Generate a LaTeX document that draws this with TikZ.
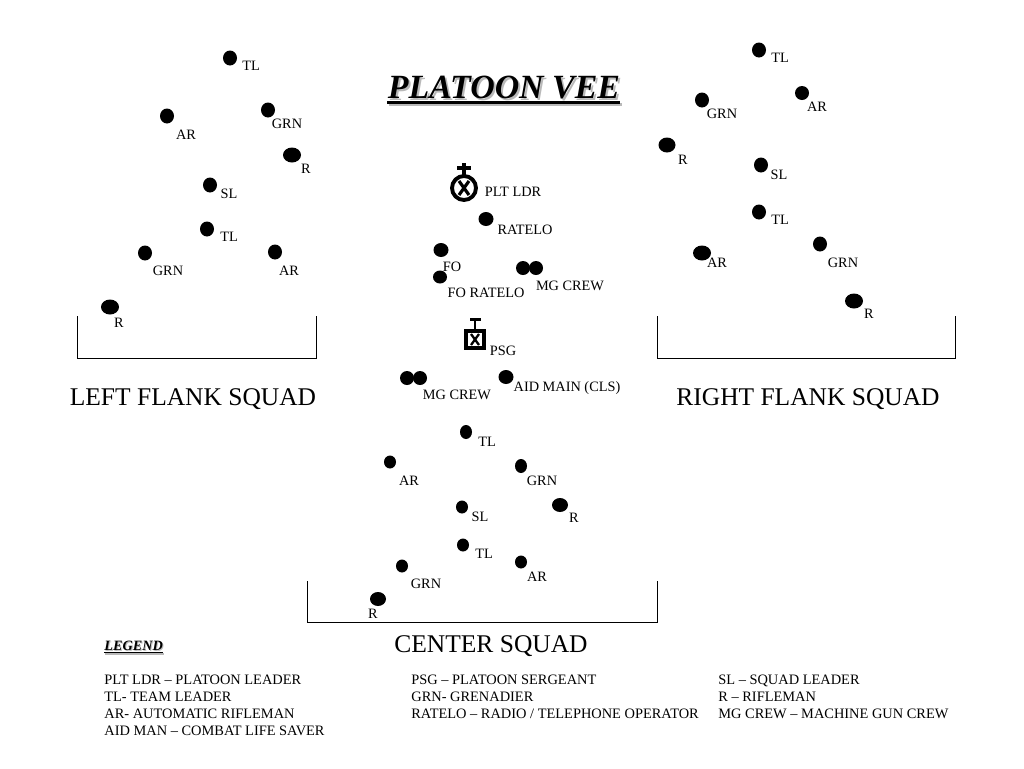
\documentclass[tikz,border=0pt]{standalone}
\usepackage{fontspec}
\setmainfont{Liberation Serif}
\usetikzlibrary{positioning}
\tikzset{
  lab/.style={inner sep=0pt,yshift=-0.4pt,font=\fontsize{8.15}{9}\selectfont},
  squadname/.style={inner sep=0pt,font=\fontsize{14.5}{16}\selectfont},
  legline/.style={anchor=base west,inner sep=0pt,font=\fontsize{8.2}{9}\selectfont},
  bracket/.style={line width=0.5pt},
  symb/.style={line width=2.2pt},
}
\begin{document}
\begin{tikzpicture}[x=0.02cm,y=-0.02cm]
\useasboundingbox (0,0) rectangle (1024,768);
% title and its shadow
\fill[gray!55] (389,103) rectangle (622,106);
\node[inner sep=0pt,text=gray!55,font=\fontsize{19.3}{22}\bfseries\itshape\selectfont] (titleshadow) at (506,90) {PLATOON VEE};
\node[inner sep=0pt,font=\fontsize{19.3}{22}\bfseries\itshape\selectfont] (title) at (504,88) {PLATOON VEE};
\fill (387,101) rectangle (620,103.5);
% soldiers: dot x/y, radii, label x/y, label
\foreach \xx/\yy/\rx/\ry/\lx/\ly/\txt [count=\i] in {
  230/58/7/7.5/251/65/TL, 167/116/7/7.5/186/134/AR, 268/110/7/7.5/287/123/GRN,
  292/155/9/7.5/306/168/R, 210/185/7/7.5/229/193/SL, 207/229/7/7.5/229/236/TL,
  145/253/7/7.5/168/270/GRN, 275/252/7/7.5/289/270/AR, 110/307/9/7.5/119/322/R,
  759/50/7/7.5/780/57/TL, 702/100/7/7.5/722/113/GRN, 802/93/7/7/817/106/AR,
  667/145/8.5/7.5/683/159/R, 761/165/7/7.5/779/174/SL, 759/212/7/7.5/780/219/TL,
  702/253/9/7.5/717/262/AR, 820/244/7/7.5/843/262/GRN, 854/301/9/7.5/869/313/R,
  486/219/7.5/7/525/229/RATELO, 441/250/7.5/7/452/266/FO, 440/277/7/6.5/486/292/FO RATELO,
  506/377/7.5/7/567/387/AID MAIN (CLS),
  466/432/6/7/487/441/TL, 390/462/6/6.5/409/480/AR, 521/466/6/7/542/480/GRN,
  462/507/6/6.5/480/516/SL, 560/505/8/7/574/517/R, 463/545/6/6.5/484/553/TL,
  521/562/6/6.5/537/576/AR, 402/566/6/6.5/426/583/GRN, 378/599/8/7/373/613/R}
  {\fill (\xx,\yy) ellipse ({\rx} and {\ry});
   \node[lab] (lab\i) at (\lx,\ly) {\txt};}
% machine gun crews, two dots each
\foreach \xx/\yy in {523/268,536/268,407/378,420/378}
  {\fill (\xx,\yy) ellipse (7 and 7);}
\node[lab] (mgone) at (570,285) {MG CREW};
\node[lab] (mgtwo) at (457,394) {MG CREW};
% platoon leader symbol
\draw[symb] (464,188) circle (12);
\draw[line width=1.8pt] (459,181) -- (469,195) (469,181) -- (459,195);
\draw[line width=2pt] (464,163) -- (464,176) (457,168) -- (471,168);
\node[lab] (pltldr) at (513,191) {PLT LDR};
% platoon sergeant symbol
\draw[line width=2pt] (466,331) rectangle (484,348);
\draw[line width=1.3pt] (471,334) -- (479,345) (479,334) -- (471,345);
\draw[line width=1.6pt] (475,319) -- (475,331) (470,319.5) -- (481,319.5);
\node[lab] (psg) at (503,350) {PSG};
% squad brackets
\draw[bracket] (77,316) |- (316,358) -- (316,316);
\draw[bracket] (657,316) |- (955,358) -- (955,316);
\draw[bracket] (307,581) |- (657,622) -- (657,581);
\node[squadname] (leftsq) at (193,399) {LEFT FLANK SQUAD};
\node[squadname] (rightsq) at (808,399) {RIGHT FLANK SQUAD};
\node[squadname] (centersq) at (491,646) {CENTER SQUAD};
% legend
\fill[gray!55] (105,653) rectangle (164,655);
\node[inner sep=0pt,anchor=west,text=gray!55,font=\fontsize{8.1}{9}\bfseries\itshape\selectfont] (legshadow) at (105,647) {LEGEND};
\node[inner sep=0pt,anchor=west,font=\fontsize{8.1}{9}\bfseries\itshape\selectfont] (legend) at (104,646) {LEGEND};
\fill (104,652) rectangle (163,653);
\foreach \xx/\yy/\txt [count=\i] in {
  104/684/PLT LDR -- PLATOON LEADER, 104/701/TL- TEAM LEADER,
  104/718/AR- AUTOMATIC RIFLEMAN, 104/735/AID MAN -- COMBAT LIFE SAVER,
  411/684/PSG -- PLATOON SERGEANT, 411/701/GRN- GRENADIER,
  411/718/{RATELO -- RADIO / TELEPHONE OPERATOR},
  718/684/SL -- SQUAD LEADER, 718/701/R -- RIFLEMAN, 718/718/MG CREW -- MACHINE GUN CREW}
  {\node[legline] (leg\i) at (\xx,\yy) {\txt};}
\end{tikzpicture}
\end{document}
